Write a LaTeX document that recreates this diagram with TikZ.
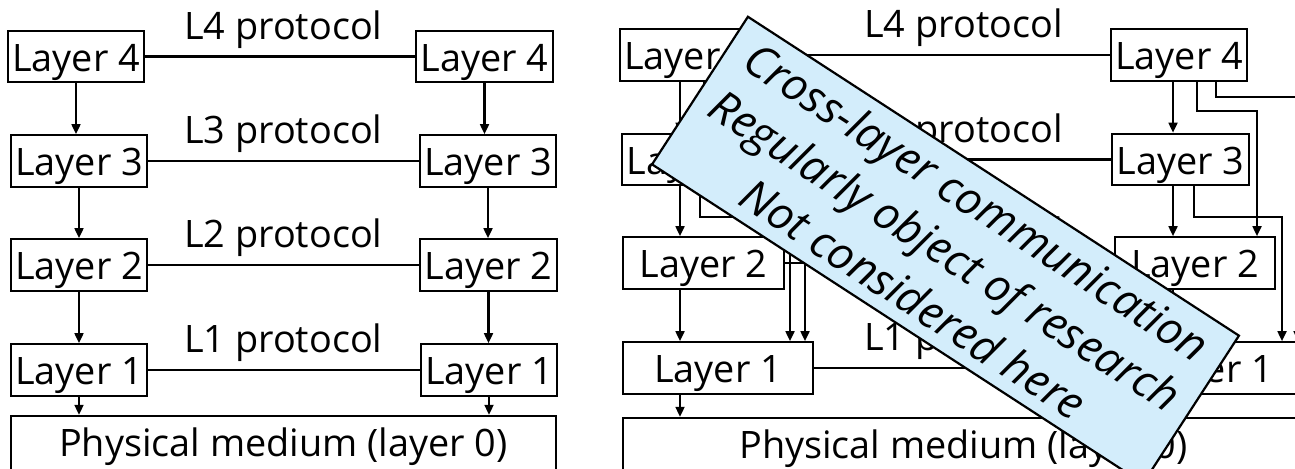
\documentclass[tikz,border=0pt]{standalone}
\usepackage{fontspec}
\setmainfont{Open Sans}
\usetikzlibrary{arrows.meta}
\definecolor{notebg}{RGB}{211,237,251}

\begin{document}
\begin{tikzpicture}[x=0.5pt, y=-0.5pt, line width=1.1pt,
    font=\fontsize{18.9pt}{22pt}\selectfont,
    layer/.style={draw, inner xsep=2.25pt, inner ysep=0pt, text height=20.2pt, text depth=5.5pt},
    medium/.style={layer, text depth=8pt},
    proto/.style={anchor=base, yshift=8.75pt, inner sep=0pt},
    arr/.style={-{Triangle[length=5pt,width=4.4pt]}},
    banner/.style={draw, fill=notebg, rotate=-33, align=center, inner sep=0pt,
      minimum width=292.75pt, minimum height=88pt,
      font=\fontsize{22.5pt}{29pt}\selectfont\itshape}]
  \useasboundingbox (0,0) rectangle (1295,468);
  \clip (0,0) rectangle (1295,468);

  % Nodes (strict layering)
  \node[layer] (a4) at (76,56.5) {Layer 4};
  \node[layer] (a3) at (79,161) {Layer 3};
  \node[layer] (a2) at (79,265) {Layer 2};
  \node[layer] (a1) at (79,370) {Layer 1};
  \node[layer] (b4) at (484.5,56.5) {Layer 4};
  \node[layer] (b3) at (488,161) {Layer 3};
  \node[layer] (b2) at (488.5,265) {Layer 2};
  \node[layer] (b1) at (489,370) {Layer 1};
  \node[medium, minimum width=272.65pt] (p0) at (283.4,444.2) {Physical medium (layer 0)};

  % Nodes (cross-layer)
  \node[layer] (c4) at (688,55) {Layer 4};
  \node[layer] (c3) at (690.5,159.5) {Layer 3};
  \node[layer, minimum width=80.5pt] (c2) at (703.5,263) {Layer 2};
  \node[layer, minimum width=95pt] (c1) at (718,368) {Layer 1};
  \node[layer] (d4) at (1179,55) {Layer 4};
  \node[layer] (d3) at (1180.5,159.5) {Layer 3};
  \node[layer, minimum width=80pt] (d2) at (1195,263) {Layer 2};
  \node[layer, minimum width=95pt] (d1) at (1209,368) {Layer 1};
  \node[medium, minimum width=340.5pt] (p1) at (963.5,446.2) {Physical medium (layer 0)};

  % Protocol labels
  \node[proto] (l4a) at (p0 |- a4) {L4 protocol};
  \node[proto] (l3a) at (p0 |- a3) {L3 protocol};
  \node[proto] (l2a) at (p0 |- a2) {L2 protocol};
  \node[proto] (l1a) at (p0 |- a1) {L1 protocol};
  \node[proto] (l4b) at (p1 |- c4) {L4 protocol};
  \node[proto] (l3b) at (p1 |- c3) {L3 protocol};
  \node[proto] (l2b) at (p1 |- c2) {L2 protocol};
  \node[proto] (l1b) at (p1 |- c1) {L1 protocol};

  % Edges (strict layering)
  \draw (a4) -- (b4);
  \draw (a3) -- (b3);
  \draw (a2) -- (b2);
  \draw (a1) -- (b1);
  \draw[arr] (a4.south) -- (a4.south |- a3.north);
  \draw[arr] (a3.south) -- (a3.south |- a2.north);
  \draw[arr] (a2.south) -- (a2.south |- a1.north);
  \draw[arr] (a1.south) -- (a1.south |- p0.north);
  \draw[arr] (b4.south) -- (b4.south |- b3.north);
  \draw[arr] (b3.south) -- (b3.south |- b2.north);
  \draw[arr] (b2.south) -- (b2.south |- b1.north);
  \draw[arr] (b1.south) -- (b1.south |- p0.north);

  % Edges (cross-layer)
  \draw (c4) -- (d4);
  \draw (c3) -- (d3);
  \draw (c2) -- (d2);
  \draw (c1) -- (d1);
  \draw[arr] (680,0 |- c4.south) -- (680,0 |- c3.north);
  \draw[arr] (680,0 |- c3.south) -- (680,0 |- c2.north);
  \draw[arr] (680,0 |- c2.south) -- (680,0 |- c1.north);
  \draw[arr] (680,0 |- c1.south) -- (680,0 |- p1.north);
  \draw[arr] (704,0 |- c4.south) |- (764,111) -- (764,0 |- c2.north);
  \draw[arr] (723,0 |- c4.south) |- (805,97) -- (805,0 |- c1.north);
  \draw[arr] (700,0 |- c3.south) |- (790,217) -- (790,0 |- c1.north);
  \draw[arr] (1173,0 |- d4.south) -- (1173,0 |- d3.north);
  \draw[arr] (1173,0 |- d3.south) -- (1173,0 |- d2.north);
  \draw[arr] (1173,0 |- d2.south) -- (1173,0 |- d1.north);
  \draw[arr] (1173,0 |- d1.south) -- (1173,0 |- p1.north);
  \draw[arr] (1197,0 |- d4.south) |- (1257,111) -- (1257,0 |- d2.north);
  \draw[arr] (1216,0 |- d4.south) |- (1298,97) -- (1298,0 |- d1.north);
  \draw[arr] (1194,0 |- d3.south) |- (1282,217) -- (1282,0 |- d1.north);

  % Overlay
  \node[banner] (note) at (945.5,250) {Cross-layer communication\\Regularly object of research\\Not considered here};
\end{tikzpicture}
\end{document}
